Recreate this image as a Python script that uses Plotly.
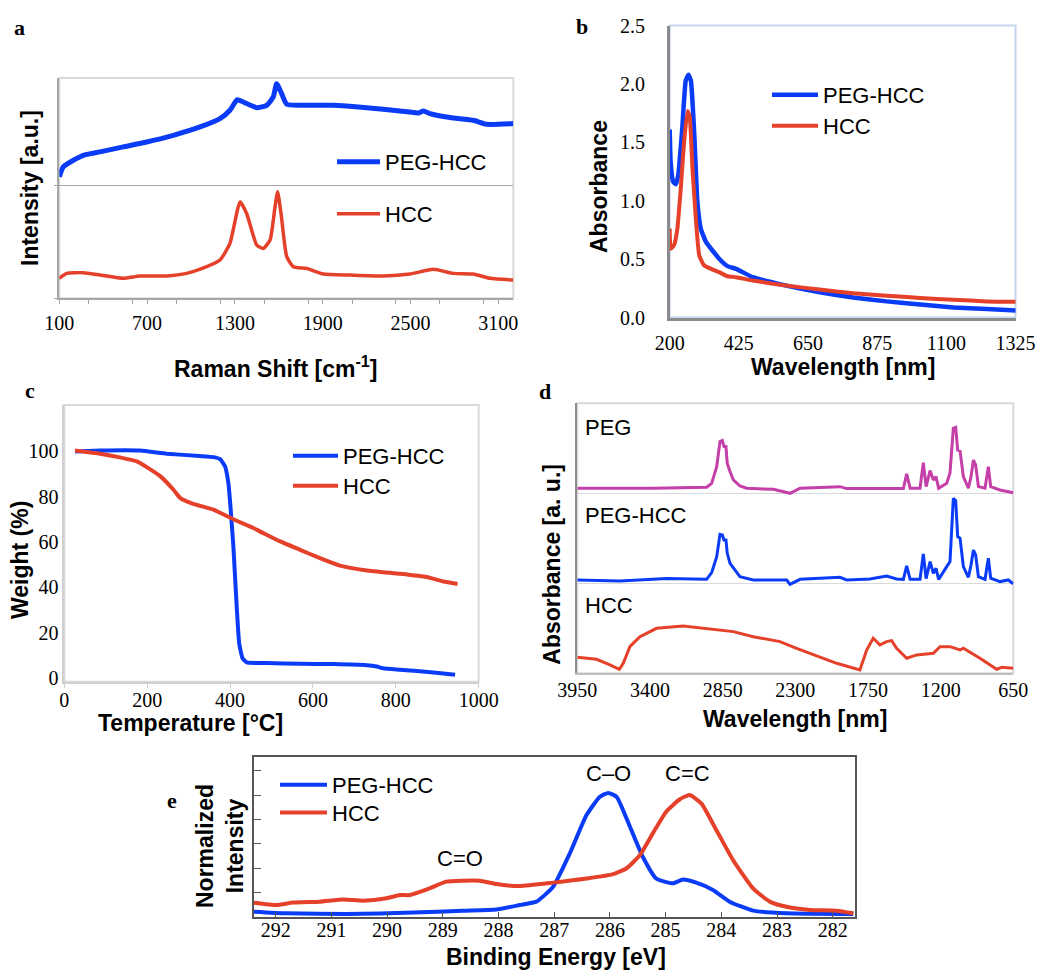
import plotly.graph_objects as go

# ---------------- DATA ----------------
# (a) Raman
raman_peg_x = [100, 127, 196, 264, 378, 537, 697, 879, 1061, 1198, 1266, 1316, 1357, 1449, 1517, 1562, 1585, 1619, 1654, 1745, 1972, 2200, 2428, 2553, 2588, 2633, 2770, 2929, 3020, 3202]
raman_peg_y = [1.077, 1.165, 1.224, 1.268, 1.298, 1.342, 1.386, 1.445, 1.519, 1.593, 1.667, 1.761, 1.740, 1.690, 1.711, 1.785, 1.903, 1.814, 1.720, 1.711, 1.711, 1.690, 1.661, 1.643, 1.661, 1.637, 1.602, 1.578, 1.543, 1.549]
raman_hcc_x = [100, 150, 264, 378, 537, 651, 833, 970, 1107, 1198, 1266, 1335, 1380, 1449, 1494, 1540, 1574, 1592, 1615, 1654, 1699, 1790, 1904, 2086, 2314, 2496, 2656, 2793, 2929, 3043, 3202]
raman_hcc_y = [0.177, 0.221, 0.227, 0.206, 0.177, 0.198, 0.198, 0.221, 0.280, 0.339, 0.487, 0.855, 0.752, 0.472, 0.442, 0.516, 0.811, 0.944, 0.752, 0.369, 0.280, 0.265, 0.215, 0.206, 0.198, 0.215, 0.257, 0.221, 0.215, 0.177, 0.162]

# (b) UV-Vis-NIR
uv_peg_x = [200, 203, 211, 220, 228, 241, 252, 261, 269, 280, 290, 301, 318, 361, 388, 416, 470, 579, 688, 797, 906, 1015, 1124, 1232, 1330]
uv_peg_y = [1.609, 1.336, 1.164, 1.141, 1.221, 1.624, 2.026, 2.078, 2.026, 1.566, 0.991, 0.761, 0.647, 0.503, 0.440, 0.417, 0.345, 0.273, 0.216, 0.172, 0.138, 0.112, 0.086, 0.072, 0.060]
uv_hcc_x = [200, 203, 214, 225, 236, 247, 258, 265, 274, 285, 296, 312, 361, 388, 416, 470, 579, 688, 797, 906, 1015, 1124, 1232, 1330]
uv_hcc_y = [0.761, 0.589, 0.618, 0.761, 1.106, 1.509, 1.767, 1.724, 1.279, 0.848, 0.532, 0.445, 0.388, 0.353, 0.345, 0.316, 0.273, 0.239, 0.207, 0.187, 0.167, 0.152, 0.138, 0.135]

# (c) TGA
tga_peg_x = [26, 86, 183, 247, 327, 360, 376, 388, 396, 401, 408, 416, 422, 430, 440, 488, 569, 649, 730, 754, 770, 810, 891, 943]
tga_peg_y = [100, 100.4, 100.4, 99, 98, 97.5, 96.6, 93.4, 86, 75.7, 58, 31.6, 15.4, 8.8, 6.9, 6.6, 6.3, 6.2, 5.7, 5.1, 4.3, 3.7, 2.5, 1.5]
tga_hcc_x = [26, 86, 134, 175, 199, 232, 264, 280, 311, 360, 408, 456, 521, 569, 617, 665, 730, 810, 874, 915, 949]
tga_hcc_y = [100.4, 99, 97.4, 95.6, 93.1, 89, 83, 79.4, 76.9, 74.3, 70.1, 66.2, 60.3, 56.6, 52.9, 49.6, 47.5, 46, 44.6, 42.6, 41.5]

# (d) FTIR (stacked, offset baselines)
ir_peg_x = [3950, 3375, 2971, 2933, 2895, 2870, 2852, 2840, 2825, 2815, 2794, 2769, 2719, 2668, 2466, 2340, 2264, 1962, 1911, 1482, 1457, 1431, 1356, 1331, 1310, 1280, 1255, 1235, 1215, 1154, 1129, 1104, 1086, 1071, 1053, 1028, 990, 970, 952, 935, 914, 864, 839, 821, 751, 650]
ir_peg_y = [2.056, 2.056, 2.067, 2.111, 2.296, 2.574, 2.585, 2.519, 2.519, 2.333, 2.241, 2.148, 2.081, 2.056, 2.044, 2.0, 2.056, 2.074, 2.052, 2.052, 2.215, 2.056, 2.056, 2.341, 2.074, 2.252, 2.148, 2.185, 2.056, 2.111, 2.226, 2.722, 2.733, 2.481, 2.470, 2.185, 2.056, 2.185, 2.370, 2.315, 2.074, 2.056, 2.296, 2.074, 2.037, 2.007]
ir_peghcc_x = [3950, 3627, 3274, 2971, 2933, 2895, 2870, 2852, 2840, 2825, 2815, 2794, 2719, 2618, 2365, 2340, 2264, 1962, 1911, 1735, 1609, 1533, 1482, 1457, 1431, 1356, 1331, 1310, 1280, 1255, 1235, 1215, 1154, 1129, 1104, 1086, 1071, 1053, 1028, 990, 970, 952, 935, 914, 864, 839, 821, 751, 688, 650]
ir_peghcc_y = [1.037, 1.026, 1.052, 1.044, 1.119, 1.296, 1.544, 1.537, 1.481, 1.481, 1.333, 1.222, 1.074, 1.037, 1.037, 0.989, 1.044, 1.067, 1.037, 1.048, 1.081, 1.048, 1.044, 1.193, 1.044, 1.044, 1.326, 1.052, 1.241, 1.111, 1.167, 1.044, 1.185, 1.241, 1.944, 1.919, 1.519, 1.500, 1.185, 1.067, 1.204, 1.370, 1.315, 1.074, 1.044, 1.278, 1.056, 1.019, 1.037, 0.993]
ir_hcc_x = [3950, 3804, 3703, 3632, 3602, 3552, 3476, 3350, 3148, 2971, 2769, 2618, 2416, 2290, 2113, 1987, 1811, 1760, 1710, 1659, 1609, 1571, 1533, 1457, 1381, 1255, 1205, 1129, 1053, 1028, 902, 826, 776, 738, 650]
ir_hcc_y = [0.178, 0.156, 0.093, 0.044, 0.111, 0.296, 0.407, 0.500, 0.526, 0.500, 0.463, 0.407, 0.352, 0.278, 0.185, 0.111, 0.037, 0.259, 0.389, 0.315, 0.352, 0.363, 0.278, 0.167, 0.204, 0.222, 0.296, 0.296, 0.259, 0.278, 0.167, 0.093, 0.044, 0.067, 0.056]
ir_labels = ["PEG", "PEG-HCC", "HCC"]

# (e) XPS C1s
xps_peg_x = [292.39, 291.81, 290.73, 289.53, 288.64, 288.04, 287.62, 287.32, 287.02, 286.72, 286.42, 286.18, 286.03, 285.88, 285.64, 285.41, 285.17, 284.87, 284.69, 284.45, 284.15, 283.85, 283.43, 282.83, 281.63]
xps_peg_y = [0.22, 0.15, 0.12, 0.18, 0.26, 0.31, 0.49, 0.63, 1.24, 2.61, 4.18, 4.93, 5.09, 4.93, 3.70, 2.47, 1.58, 1.38, 1.54, 1.41, 1.11, 0.63, 0.26, 0.15, 0.12]
xps_hcc_x = [292.39, 291.99, 291.69, 291.21, 290.79, 290.43, 290.01, 289.77, 289.59, 289.24, 288.94, 288.64, 288.34, 288.04, 287.62, 287.02, 286.42, 285.94, 285.70, 285.46, 285.23, 284.99, 284.75, 284.57, 284.36, 284.09, 283.79, 283.43, 283.13, 282.83, 282.41, 281.93, 281.63]
xps_hcc_y = [0.59, 0.49, 0.59, 0.63, 0.72, 0.67, 0.77, 0.90, 0.90, 1.17, 1.45, 1.49, 1.49, 1.35, 1.27, 1.41, 1.58, 1.76, 2.00, 2.54, 3.43, 4.32, 4.82, 5.00, 4.66, 3.57, 2.34, 1.17, 0.63, 0.42, 0.29, 0.26, 0.15]
xps_peaks = ["C–O", "C=C", "C=O"]
xps_peak_x = [286.03, 284.6, 288.7]
xps_peak_y = [5.9, 5.9, 2.42]

# ---------------- STYLE ----------------
BLUE = "#0a3cf8"
RED = "#e5402a"
MAG = "#c43fa8"
SERIF = "Liberation Serif, Times New Roman, serif"
SANS = "Liberation Sans, Arial, sans-serif"
OFF = 8                      # page body margin
W, H = 1050 - OFF, 978 - OFF


def px(p):
    return (p - OFF) / W


def py(p):
    return 1 - (p - OFF) / H


fig = go.Figure()


def add(xs, ys, name, color, width, xa, ya, leg=None, shape="spline", smoothing=0.5):
    fig.add_trace(go.Scatter(x=xs, y=ys, mode="lines", name=name,
                             line=dict(color=color, width=width, shape=shape,
                                       smoothing=smoothing if shape == "spline" else None),
                             xaxis=xa, yaxis=ya, legend=leg, showlegend=leg is not None))


# (a)
add(raman_peg_x, raman_peg_y, "PEG-HCC", BLUE, 5, "x", "y", "legend")
add(raman_hcc_x, raman_hcc_y, "HCC", RED, 3.5, "x", "y", "legend2")
# (b)
add(uv_peg_x, uv_peg_y, "PEG-HCC", BLUE, 4.5, "x2", "y2", "legend3", smoothing=0.4)
add(uv_hcc_x, uv_hcc_y, "HCC", RED, 4, "x2", "y2", "legend4", smoothing=0.4)
# (c)
add(tga_peg_x, tga_peg_y, "PEG-HCC", BLUE, 4, "x3", "y3", "legend5", smoothing=0.4)
add(tga_hcc_x, tga_hcc_y, "HCC", RED, 4, "x3", "y3", "legend6", smoothing=0.4)
# (d)
add(ir_peg_x, ir_peg_y, ir_labels[0], MAG, 3, "x4", "y4", shape="linear")
add(ir_peghcc_x, ir_peghcc_y, ir_labels[1], BLUE, 3, "x4", "y4", shape="linear")
add(ir_hcc_x, ir_hcc_y, ir_labels[2], RED, 3, "x4", "y4", shape="linear")
# (e)
add(xps_peg_x, xps_peg_y, "PEG-HCC", BLUE, 4, "x5", "y5", "legend7")
add(xps_hcc_x, xps_hcc_y, "HCC", RED, 4, "x5", "y5", "legend8")

tickf = dict(family=SERIF, size=20, color="black")
base = dict(zeroline=False, showgrid=False, tickfont=tickf, fixedrange=True, automargin=False)

layout = dict(
    width=W, height=H, margin=dict(l=0, r=0, t=0, b=0, autoexpand=False),
    paper_bgcolor="white", plot_bgcolor="white", showlegend=True,
    xaxis=dict(base, domain=[px(59.3), px(513.3)], anchor="y", range=[100, 3202],
               tick0=100, dtick=600, ticks="outside", ticklen=4, tickcolor="#a6a6a6",
               minor=dict(dtick=300, ticks="outside", ticklen=4, tickcolor="#a6a6a6"),
               showline=True, linecolor="#a6a6a6", linewidth=1.5, ticklabelstandoff=2),
    yaxis=dict(base, domain=[py(298.3), py(78)], anchor="x", range=[0, 1.953],
               tickvals=[0, 1], ticks="outside", ticklen=4, tickcolor="#a6a6a6",
               showticklabels=False, showgrid=True, gridcolor="#a6a6a6", gridwidth=1.2,
               showline=True, linecolor="#a6a6a6", linewidth=1.5),
    xaxis2=dict(base, domain=[px(669.7), px(1015.5)], anchor="y2", range=[200, 1325],
                tick0=200, dtick=225, ticks="", showline=True, linecolor="#8c8c8c",
                linewidth=2.5, ticklabelstandoff=6),
    yaxis2=dict(base, domain=[py(317.5), py(25.5)], anchor="x2", range=[0, 2.5],
                dtick=0.5, tickformat=".1f", ticks="", showline=True,
                linecolor="#8c8c8c", linewidth=2.5, ticklabelstandoff=18),
    xaxis3=dict(base, domain=[px(64.3), px(478.7)], anchor="y3", range=[0, 1000],
                dtick=200, ticks="outside", ticklen=5, tickcolor="#d0d0d0",
                showline=True, linecolor="#d0d0d0", linewidth=1.5, ticklabelstandoff=-5),
    yaxis3=dict(base, domain=[py(681.7), py(405)], anchor="x3", range=[-1.6, 120.5],
                tickvals=[0, 20, 40, 60, 80, 100], ticks="", showline=True,
                linecolor="#d0d0d0", linewidth=1.5, ticklabelstandoff=0),
    xaxis4=dict(base, domain=[px(577.3), px(1013.3)], anchor="y4", range=[3950, 650],
                tickvals=[3950, 3400, 2850, 2300, 1750, 1200, 650], ticks="",
                showline=True, linecolor="#bfbfbf", linewidth=1.5, ticklabelstandoff=-2),
    yaxis4=dict(base, domain=[py(673.3), py(403.3)], anchor="x4", range=[0, 3],
                tickvals=[1, 2], ticks="", showticklabels=False, showgrid=True,
                gridcolor="#d9d9d9", gridwidth=1.2, showline=True,
                linecolor="#8c8c8c", linewidth=2),
    xaxis5=dict(base, domain=[px(254), px(855)], anchor="y5", range=[292.39, 281.6],
                dtick=1, ticks="inside", ticklen=5, tickcolor="#555555", mirror=True,
                showline=True, linecolor="#555555", linewidth=1.5, ticklabelstandoff=-6),
    yaxis5=dict(base, domain=[py(917), py(757.3)], anchor="x5", range=[0, 6.55],
                tickvals=[1, 2, 3, 4, 5, 6], ticks="inside", ticklen=7, tickcolor="#555555",
                showticklabels=False, mirror=True, showline=True,
                linecolor="#555555", linewidth=1.5),
)

# one legend per entry: (line start x, item centre y, text start x)
legfont = dict(family=SANS, size=22, color="black")
leg_pos = {
    "legend": (337, 162, 385), "legend2": (337, 214, 385),
    "legend3": (772, 95, 823), "legend4": (772, 126, 823),
    "legend5": (293, 456, 343), "legend6": (293, 486, 343),
    "legend7": (280, 785, 332), "legend8": (280, 812.7, 332),
}
for key, (lx, cy, tx) in leg_pos.items():
    layout[key] = dict(x=px(lx - 5), y=py(cy - 21), xanchor="left", yanchor="top",
                       font=legfont, bgcolor="rgba(0,0,0,0)", borderwidth=0,
                       itemwidth=max(30, int(round(tx - lx - 5))))

fig.update_layout(**layout)

# panel frames (light borders behind the axes)
frames = [("x", "y", "#d9d9d9"), ("x2", "y2", "#c5d5ee"), ("x3", "y3", "#d9d9d9"), ("x4", "y4", "#d9d9d9")]
for xa, ya, col in frames:
    fig.add_shape(type="rect", xref=f"{xa} domain", yref=f"{ya} domain", x0=0, x1=1, y0=0, y1=1,
                  line=dict(color=col, width=2), layer="below")

ann = []
title_font = dict(family=SANS, size=23, color="black")


def t(text, x, y, angle=0, font=None, xanchor="center"):
    ann.append(dict(text=text, x=px(x), y=py(y), xref="paper", yref="paper", showarrow=False,
                    textangle=angle, font=font or title_font, xanchor=xanchor, yanchor="middle"))


bold = lambda s: f"<b>{s}</b>"
# panel letters
letter_font = dict(family=SERIF, size=22, color="black")
for letter, lx, ly in [("a", 19, 27), ("b", 582, 26), ("c", 30, 391), ("d", 545, 392), ("e", 172, 800)]:
    t(bold(letter), lx, ly, font=letter_font)
# axis titles
t(bold("Raman Shift [cm<sup>-1</sup>]"), 275.5, 367)
t(bold("Intensity [a.u.]"), 30, 188, angle=-90)
t(bold("Wavelength [nm]"), 842.5, 367)
t(bold("Absorbance"), 599, 187, angle=-90)
t(bold("Temperature [°C]"), 190, 723)
t(bold("Weight (%)"), 20, 560, angle=-90)
t(bold("Wavelength [nm]"), 795, 719)
t(bold("Absorbance [a. u.]"), 551.7, 564, angle=-90)
t(bold("Binding Energy [eV]"), 556, 957)
t(bold("Normalized<br>Intensity"), 220, 846, angle=-90)
# FTIR labels
label_font = dict(family=SANS, size=22, color="black")
for lab, ly in zip(ir_labels, [427, 515, 605]):
    t(lab, 583, ly, font=label_font, xanchor="left")
# XPS peak labels (data coords)
for lab, xv, yv in zip(xps_peaks, xps_peak_x, xps_peak_y):
    ann.append(dict(text=lab, x=xv, y=yv, xref="x5", yref="y5", showarrow=False,
                    font=label_font, xanchor="center", yanchor="middle"))

fig.update_layout(annotations=ann)
fig.write_html("out.html")
